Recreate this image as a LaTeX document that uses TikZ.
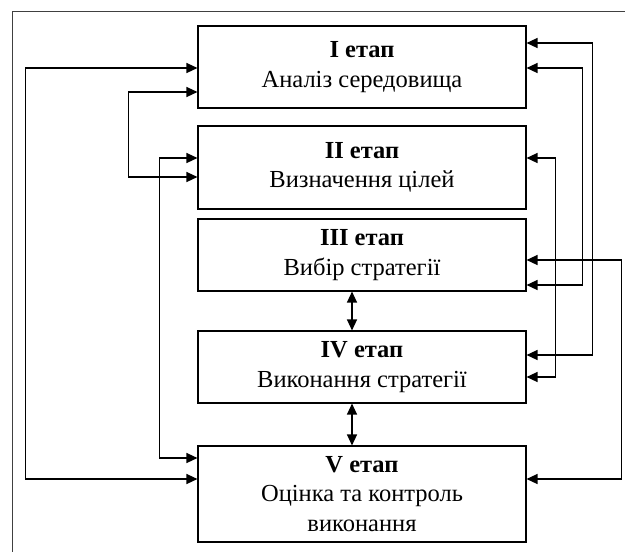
\documentclass[tikz,border=0pt]{standalone}
\usepackage{fontspec}
\setmainfont{Liberation Serif}
\usetikzlibrary{arrows.meta}
\begin{document}
\begin{tikzpicture}[x=1pt,y=-1pt,
  stage/.style={draw,line width=1.1pt,minimum width=328pt,inner sep=0pt,align=center,
    font=\fontsize{24.5}{29.5}\selectfont},
  dbl/.style={line width=1.3pt,{Triangle[length=11pt,width=10pt]}-{Triangle[length=11pt,width=10pt]}}]
\useasboundingbox (0,0) rectangle (625,552);
\begin{scope}
\clip (0,0) rectangle (625,552);
\draw[line width=0.9pt,black!75] (12,600) -- (12,11) -- (700,11);
\end{scope}
\node[stage,minimum height=82pt] (I) at (362,67) {\textbf{I етап}\\Аналіз середовища};
\node[stage,minimum height=83pt] (II) at (362,167.5) {\textbf{II етап}\\Визначення цілей};
\node[stage,minimum height=72pt] (III) at (362,255) {\textbf{III етап}\\Вибір стратегії};
\node[stage,minimum height=72pt] (IV) at (362,367) {\textbf{IV етап}\\Виконання стратегії};
\node[stage,minimum height=96pt] (V) at (362,494) {\textbf{V етап}\\Оцінка та контроль\\виконання};
% vertical double arrows
\draw[dbl] ([xshift=-10pt]III.south) -- ([xshift=-10pt]IV.north);
\draw[dbl] ([xshift=-10pt]IV.south) -- ([xshift=-10pt]V.north);
% left loops
\draw[dbl] ([yshift=-1pt]I.west) -- ++(-172,0) |- ([yshift=15pt]V.west);
\draw[dbl] ([yshift=-25pt]I.west) -- ++(-69,0) |- ([yshift=-9.5pt]II.west);
\draw[dbl] ([yshift=9.5pt]II.west) -- ++(-38,0) |- ([yshift=36pt]V.west);
% right loops
\draw[dbl] ([yshift=24pt]I.east) -- ++(66,0) |- ([yshift=12pt]IV.east);
\draw[dbl] ([yshift=-1pt]I.east) -- ++(56,0) |- ([yshift=-30pt]III.east);
\draw[dbl] ([yshift=9.5pt]II.east) -- ++(29,0) |- ([yshift=-10pt]IV.east);
\draw[dbl] ([yshift=-5pt]III.east) -- ++(95,0) |- ([yshift=15pt]V.east);
\end{tikzpicture}
\end{document}
